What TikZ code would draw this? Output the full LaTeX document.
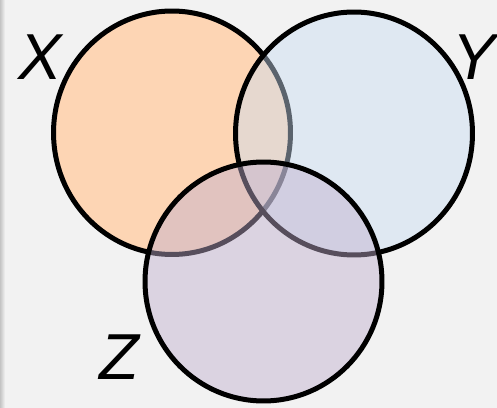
\documentclass[tikz,border=0pt]{standalone}
\usepackage{xcolor}
\usepackage{fontspec}
\setmainfont{Liberation Sans}
\usepackage{tikz}
\usetikzlibrary{shapes.geometric,positioning,backgrounds}
\definecolor{bggray}{HTML}{F2F2F2}
\definecolor{edgegray}{HTML}{C4C4C4}
\definecolor{peach}{HTML}{FDD5B4}
\definecolor{paleblue}{HTML}{CADCF2}
\definecolor{palelilac}{HTML}{C1AFCE}

\begin{document}
\begin{tikzpicture}[x=0.02cm, y=-0.02cm,
  setc/.style={draw, ellipse, minimum width=4.74cm, line width=0.1cm, inner sep=0pt},
  lbl/.style={font=\fontsize{37}{37}\selectfont\itshape, inner sep=0pt}
]
\fill[bggray] (0,0) rectangle (497,408);
\shade[left color=edgegray, right color=bggray] (0,0) rectangle (5,408);
\useasboundingbox (0,0) rectangle (497,408);

\node[setc, minimum height=4.87cm, fill=peach] (setx) at (172,132.75) {};
\node[setc, minimum height=4.86cm, fill=paleblue, fill opacity=0.45] (sety) at (354,133.5) {};
\node[setc, minimum height=4.78cm, fill=palelilac, fill opacity=0.45] (setz) at (263.5,281.5) {};

\node[lbl] (labx) at (40,57) {X};
\node[lbl, anchor=east] (laby) at (496,57) {Y};
\node[lbl] (labz) at (119,357) {Z};
\end{tikzpicture}
\end{document}
